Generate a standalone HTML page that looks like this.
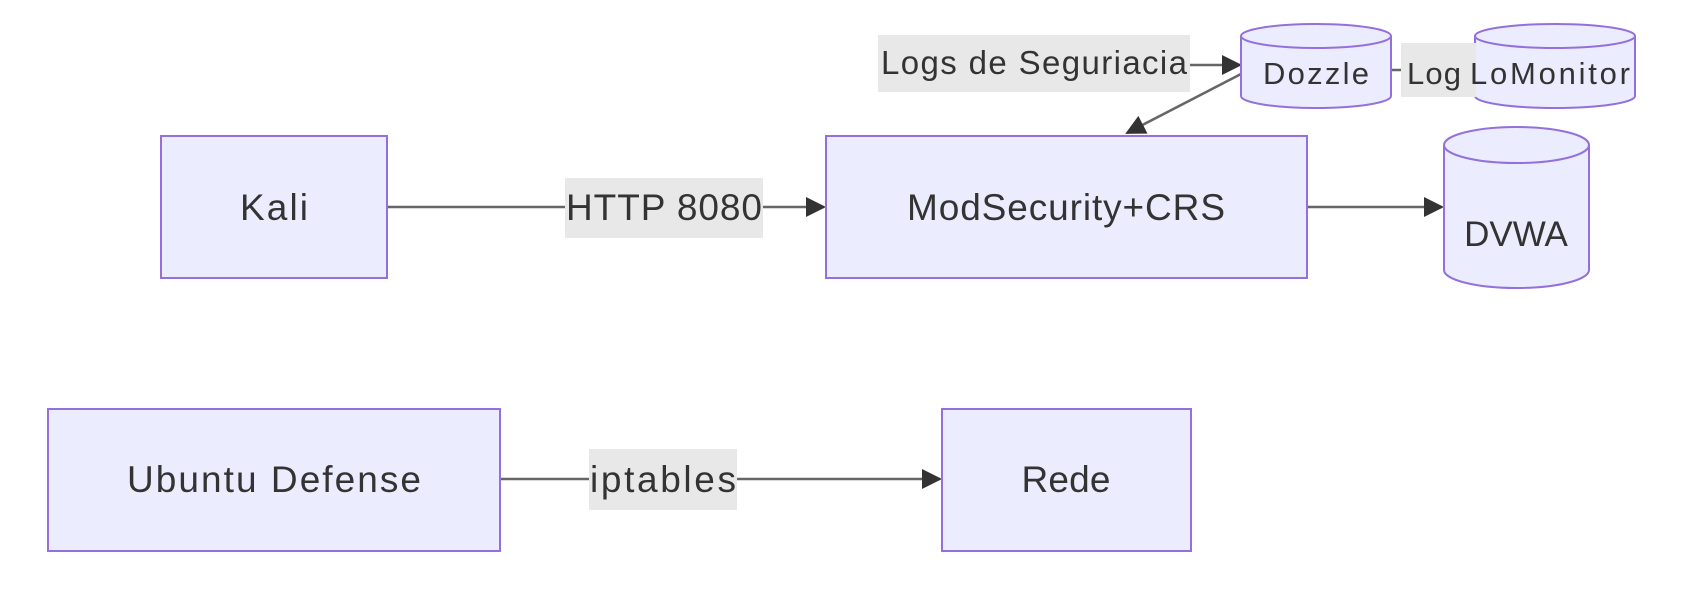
<!DOCTYPE html>
<html><head><style>
html,body{margin:0;padding:0;background:#fff;}
svg text{font-family:"Liberation Sans",sans-serif;fill:#333;}
</style></head><body>
<svg width="1696" height="608" viewBox="0 0 1696 608" xmlns="http://www.w3.org/2000/svg">
<defs>
<marker id="b" viewBox="0 0 10 10" refX="9" refY="5" markerWidth="20" markerHeight="20" orient="auto" markerUnits="userSpaceOnUse"><path d="M0,0L10,5L0,10z" fill="#333"/></marker>
</defs>
<g stroke="#666" stroke-width="2.5" fill="none">
<line x1="387" y1="207" x2="824" y2="207" marker-end="url(#b)"/>
<line x1="1307" y1="207" x2="1442" y2="207" marker-end="url(#b)"/>
<line x1="500" y1="479" x2="940" y2="479" marker-end="url(#b)"/>
<line x1="1190" y1="65" x2="1240" y2="65" marker-end="url(#b)"/>
<line x1="1241" y1="74" x2="1127" y2="133" marker-end="url(#b)"/>
<line x1="1391" y1="70" x2="1475" y2="70"/>
</g>
<g fill="#ececff" stroke="#9370db" stroke-width="2">
<rect x="161" y="136" width="226" height="142"/>
<rect x="826" y="136" width="481" height="142"/>
<rect x="48" y="409" width="452" height="142"/>
<rect x="942" y="409" width="249" height="142"/>
<path d="M1444,145 a72.5,18 0 0 1 145,0 v125 a72.5,18 0 0 1 -145,0 z"/>
<path d="M1444,145 a72.5,18 0 0 0 145,0" fill="none"/>
<path d="M1241,36 a75,12 0 0 1 150,0 v60 a75,12 0 0 1 -150,0 z"/>
<path d="M1241,36 a75,12 0 0 0 150,0" fill="none"/>
<path d="M1475,36 a80,12 0 0 1 160,0 v60 a80,12 0 0 1 -160,0 z"/>
<path d="M1475,36 a80,12 0 0 0 160,0" fill="none"/>
</g>
<g fill="#e8e8e8">
<rect x="565" y="178" width="198" height="60"/>
<rect x="589" y="449" width="148" height="61"/>
<rect x="878" y="35" width="312" height="57"/>
<rect x="1401" y="43" width="75" height="54"/>
</g>
<g font-size="37" text-anchor="middle">
<text x="274" y="220" textLength="68">Kali</text>
<text x="664" y="220" textLength="196">HTTP 8080</text>
<text x="1066" y="220" textLength="318">ModSecurity+CRS</text>
<text x="1516" y="246" font-size="35">DVWA</text>
<text x="274" y="492" textLength="294">Ubuntu Defense</text>
<text x="663" y="492" textLength="146">iptables</text>
<text x="1066" y="492" textLength="89">Rede</text>
<text x="1034" y="74" font-size="33" textLength="306">Logs de Seguriacia</text>
<text x="1316" y="84" font-size="31" textLength="106">Dozzle</text>
<text x="1434" y="84" font-size="31" textLength="54">Log</text>
<text x="1550" y="84" font-size="31" textLength="160">LoMonitor</text>
</g>
</svg>
</body></html>
